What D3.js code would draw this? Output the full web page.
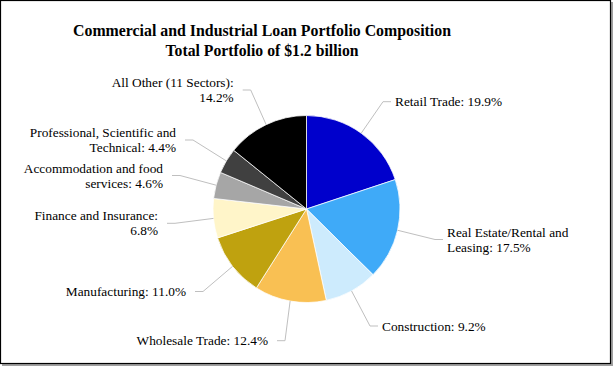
<!DOCTYPE html>
<html>
<head>
<meta charset="utf-8">
<script src="https://cdn.jsdelivr.net/npm/d3@7"></script>
<style>
  html, body { margin: 0; padding: 0; background: #fff; }
  svg { display: block; }
</style>
</head>
<body>
<svg id="chart" width="613" height="366"></svg>
<script>
// ---- data ----
const categories = [
  "Retail Trade",
  "Real Estate/Rental and Leasing",
  "Construction",
  "Wholesale Trade",
  "Manufacturing",
  "Finance and Insurance",
  "Accommodation and food services",
  "Professional, Scientific and Technical",
  "All Other (11 Sectors)"
];
const values = [19.9, 17.5, 9.2, 12.4, 11.0, 6.8, 4.6, 4.4, 14.2];
const labelLines = [
  ["Retail Trade: 19.9%"],
  ["Real Estate/Rental and", "Leasing: 17.5%"],
  ["Construction: 9.2%"],
  ["Wholesale Trade: 12.4%"],
  ["Manufacturing: 11.0%"],
  ["Finance and Insurance:", "6.8%"],
  ["Accommodation and food", "services: 4.6%"],
  ["Professional, Scientific and", "Technical: 4.4%"],
  ["All Other (11 Sectors):", "14.2%"]
];
const titleLines = [
  "Commercial and Industrial Loan Portfolio Composition",
  "Total Portfolio of $1.2 billion"
];

// ---- styles / layout ----
const colors = ["#0000CC", "#3FAAF8", "#CDEBFD", "#F9C053", "#BFA20F", "#FFF5C9", "#A6A6A6", "#404040", "#000000"];
// leader end point near each label and the side the text sits on
const labelLayout = [
  { side: "R", x: 391, y: 101.7 },
  { side: "R", x: 443, y: 239.5 },
  { side: "R", x: 378, y: 326 },
  { side: "L", x: 277, y: 340.7 },
  { side: "L", x: 195, y: 291.5 },
  { side: "L", x: 167, y: 223.3 },
  { side: "L", x: 172, y: 175.5 },
  { side: "L", x: 185, y: 140 },
  { side: "L", x: 242.7, y: 90 }
];
const titleWidths = [378, 193];

const W = 613, H = 366;
const cx = 306.5, cy = 209, R = 93.5;
const font = "'Liberation Serif', 'Times New Roman', serif";

const svg = d3.select("#chart");

// frame with shadow
svg.append("rect").attr("x", 2).attr("y", 2).attr("width", 611).attr("height", 364).attr("fill", "#a0a0a0");
svg.append("rect").attr("x", 0.5).attr("y", 0.5).attr("width", 610).attr("height", 363)
  .attr("fill", "#fff").attr("stroke", "#000").attr("stroke-width", 1.2);

// title
svg.append("g")
  .selectAll("text").data(titleLines).join("text")
  .attr("x", 262).attr("y", (d, i) => 36 + i * 20)
  .attr("text-anchor", "middle")
  .attr("textLength", (d, i) => titleWidths[i])
  .attr("lengthAdjust", "spacingAndGlyphs")
  .style("font-family", font).style("font-weight", "bold").style("font-size", "17.5px")
  .text(d => d);

const pie = d3.pie().sort(null).value(d => d)(values);
const arc = d3.arc().innerRadius(0).outerRadius(R);
const edge = d3.arc().innerRadius(R).outerRadius(R);

const g = svg.append("g").attr("transform", `translate(${cx},${cy})`);
g.selectAll("path.slice").data(pie).join("path")
  .attr("class", "slice")
  .attr("d", arc)
  .attr("fill", (d, i) => colors[i])
  .attr("stroke", "#fff").attr("stroke-width", 0.75);

// leader lines and labels
pie.forEach((d, i) => {
  const L = labelLayout[i];
  const [px, py] = edge.centroid(d);
  const sx = cx + px, sy = cy + py;
  const elbowX = L.side === "R" ? L.x - 8 : L.x + 8;
  svg.append("polyline")
    .attr("points", `${sx},${sy} ${elbowX},${L.y} ${L.x},${L.y}`)
    .attr("fill", "none").attr("stroke", "#BFBFBF").attr("stroke-width", 1);

  const lines = labelLines[i];
  const lh = 15;
  const tx = L.side === "R" ? L.x + 4 : L.x - 9;
  const b1 = L.y + 4.5 - (lines.length - 1) * lh / 2;
  svg.append("text")
    .attr("text-anchor", L.side === "R" ? "start" : "end")
    .style("font-family", font).style("font-size", "13.33px").attr("fill", "#000")
    .selectAll("tspan").data(lines).join("tspan")
    .attr("x", tx).attr("y", (t, j) => b1 + j * lh)
    .text(t => t);
});
</script>
</body>
</html>
